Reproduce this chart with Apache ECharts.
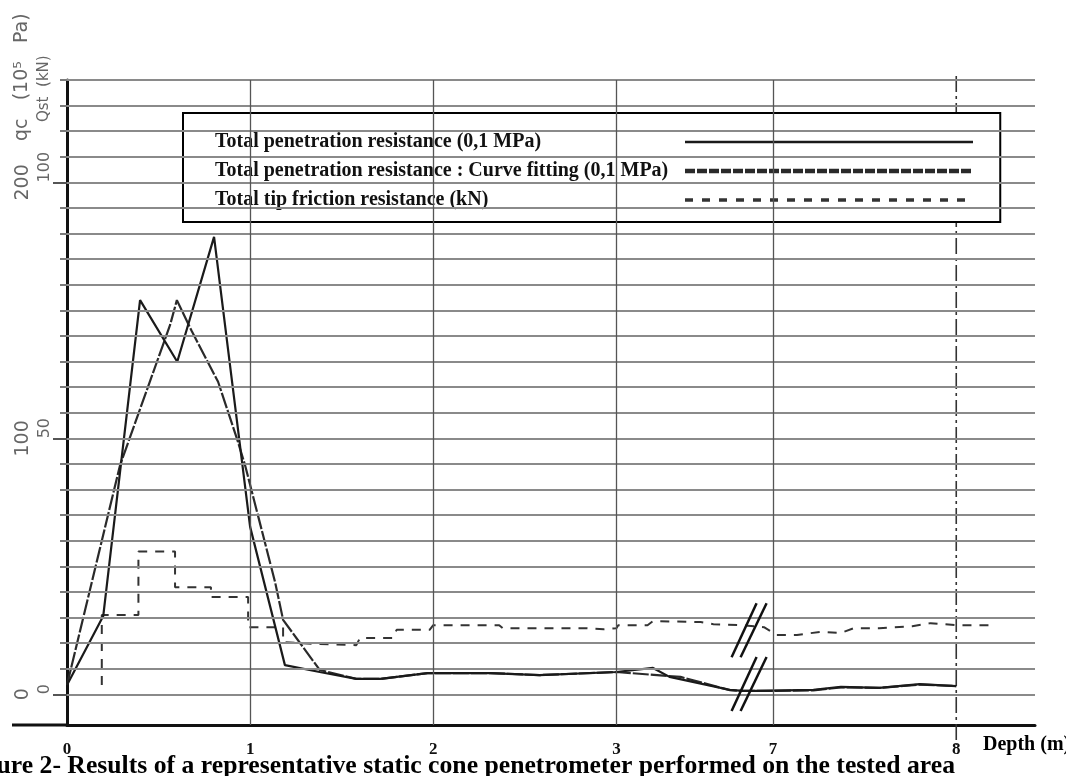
<!DOCTYPE html>
<html><head><meta charset="utf-8">
<script src="https://cdn.jsdelivr.net/npm/echarts@6/dist/echarts.min.js"></script>
<style>html,body{margin:0;padding:0;background:#fff}#c{width:1066px;height:776px}</style>
</head><body><div id="c"></div>
<script>
// ---- data (depth in m, qc in 10^5 Pa, Qst in kN) ----
const seriesNames = [
  'Total penetration resistance (0,1 MPa)',
  'Total penetration resistance : Curve fitting (0,1 MPa)',
  'Total tip friction resistance (kN)'
];
const penetrationData = [
  [0.0, 3.6], [0.198, 30.6], [0.399, 154], [0.602, 129.9], [0.803, 178.7], [1.0, 65.4],
  [1.19, 11.4], [1.38, 8.7], [1.58, 6.0], [1.71, 6.0], [1.97, 8.3], [2.31, 8.3],
  [2.58, 7.5], [3.0, 8.7], [3.20, 10.3], [3.29, 6.8], [3.62, 1.7], [3.69, 1.3],
  [6.91, 1.3], [7.22, 1.7], [7.37, 2.9], [7.58, 2.5], [7.80, 4.0], [8.0, 3.2]
];
const curveFitData = [
  [0.0, 3.6], [0.29, 89.6], [0.563, 144.3], [0.60, 154], [0.681, 141.9], [0.825, 122.1],
  [0.927, 100.1], [0.972, 89.6], [1.136, 43.9], [1.18, 29.1], [1.38, 9.5], [1.58, 6.0],
  [1.71, 6.0], [1.97, 8.3], [2.31, 8.3], [2.58, 7.5], [3.0, 8.7], [3.35, 6.8],
  [3.62, 1.6], [3.69, 1.3], [6.91, 1.3], [7.22, 1.5], [7.37, 2.7], [7.58, 2.5],
  [7.80, 3.8], [8.0, 3.2]
];
const frictionData = [
  [0.19, 1.8], [0.19, 15.5], [0.39, 15.5], [0.39, 27.9], [0.59, 27.9], [0.59, 20.9],
  [0.786, 20.9], [0.786, 19.0], [0.989, 19.0], [0.989, 13.1], [1.18, 13.1], [1.18, 10.2],
  [1.38, 9.8], [1.58, 9.6], [1.60, 11.0], [1.78, 11.0], [1.80, 12.6], [1.98, 12.6],
  [2.0, 13.5], [2.36, 13.5], [2.38, 12.9], [2.84, 12.9], [2.93, 12.7], [3.0, 12.9],
  [3.01, 13.5], [3.17, 13.5], [3.20, 14.3], [3.46, 14.1], [3.53, 13.7], [3.69, 13.5],
  [6.95, 13.1], [7.02, 11.6], [7.13, 11.6], [7.26, 12.2], [7.37, 12.0], [7.44, 12.9],
  [7.58, 12.9], [7.76, 13.3], [7.86, 13.9], [8.0, 13.5], [8.2, 13.5]
];
const xTickValues = [0, 1, 2, 3, 7, 8];
const xGridValues = [1, 2, 3, 7];
const xDashedGridValues = [8];
const qcGridValues = [0, 10, 20, 30, 40, 50, 60, 70, 80, 90, 100, 110, 120, 130, 140, 150, 160, 170, 180, 190, 200, 210, 220, 230, 240];
const qcLabelValues = [0, 100, 200];
const qstLabelValues = [0, 50, 100];
const depthBreak = { start: 3.7, end: 6.86 };
const breakMarkLevels = [25, 4];

const chart = echarts.init(document.getElementById('c'), null, { renderer: 'canvas' });

const gridMarkData = [];
qcGridValues.forEach(v => gridMarkData.push({ yAxis: v, lineStyle: { color: '#8a8a8a', width: 2, type: 'solid' } }));
xGridValues.forEach(v => gridMarkData.push({ xAxis: v, lineStyle: { color: '#555', width: 1.3, type: 'solid' } }));

const legendFont = { fontFamily: 'Liberation Serif', fontWeight: 'bold', fontSize: 20, color: '#111' };

const option = {
  animation: false,
  backgroundColor: '#fff',
  grid: { left: 67, right: 31, top: 80, bottom: 51 },
  legend: {
    orient: 'vertical', left: 183, top: 113, align: 'right',
    itemWidth: 288, itemHeight: 14, itemGap: 9,
    padding: [19, 25, 12, 32],
    borderColor: '#000', borderWidth: 2, backgroundColor: '#fff',
    selectedMode: false,
    itemStyle: { opacity: 0 },
    formatter: '{a|{name}}',
    textStyle: Object.assign({ lineHeight: 20, rich: { a: Object.assign({ width: 465, lineHeight: 20, align: 'left' }, legendFont) } }, legendFont),
    data: [
      { name: seriesNames[0], lineStyle: { width: 2.5 } },
      { name: seriesNames[1], lineStyle: { width: 4.5, type: [10, 2] } },
      { name: seriesNames[2], lineStyle: { width: 3.5, type: [8, 9] } }
    ]
  },
  xAxis: {
    type: 'value', min: 0, max: 8.43,
    breaks: [{ start: depthBreak.start, end: depthBreak.end, gap: '0.3%' }],
    breakArea: { show: false },
    axisLine: { show: true, onZero: false, breakLine: false, lineStyle: { color: '#111', width: 3 } },
    axisTick: { show: false },
    splitLine: { show: false },
    axisLabel: {
      customValues: xTickValues, margin: 16,
      fontFamily: 'Liberation Serif', fontWeight: 'bold', fontSize: 17, color: '#111',
      formatter: v => String(v)
    }
  },
  yAxis: [
    {
      type: 'value', min: -12, max: 240, position: 'left',
      axisLine: { show: true, onZero: false, lineStyle: { color: '#111', width: 3 } },
      axisTick: { show: true, customValues: qcGridValues, length: 7, lineStyle: { color: '#7a7a7a', width: 2 } },
      splitLine: { show: false },
      axisLabel: { customValues: qcLabelValues, rotate: 90, margin: 34, fontFamily: 'DejaVu Sans', fontSize: 19, color: '#666' }
    },
    {
      type: 'value', min: -6, max: 120, position: 'left',
      axisLine: { show: false, onZero: false },
      axisTick: { show: true, customValues: qstLabelValues, length: 14, lineStyle: { color: '#555', width: 2 } },
      splitLine: { show: false },
      axisLabel: { customValues: qstLabelValues, rotate: 90, align: 'left', margin: 14, fontFamily: 'DejaVu Sans', fontSize: 16, color: '#666',
        formatter: v => String(v) }
    }
  ],
  graphic: [
    { type: 'line', shape: { x1: 12, y1: 725, x2: 67, y2: 725 }, style: { stroke: '#111', lineWidth: 3 } },
    { type: 'text', x: 22, y: 141, rotation: Math.PI / 2,
      style: { text: 'qc   (10\u2075   Pa)', fontFamily: 'DejaVu Sans', fontSize: 19, fill: '#666', align: 'left', verticalAlign: 'middle' } },
    { type: 'text', x: 44, y: 122, rotation: Math.PI / 2,
      style: { text: 'Qst  (kN)', fontFamily: 'DejaVu Sans', fontSize: 15, fill: '#666', align: 'left', verticalAlign: 'middle' } },
    { type: 'text', x: 955, y: 779,
      style: { text: 'Figure 2- Results of a representative static cone penetrometer performed on the tested area', fontFamily: 'Liberation Serif', fontWeight: 'bold', fontSize: 25.7, fill: '#000', align: 'right', verticalAlign: 'bottom' } },
    { type: 'text', x: 983, y: 745,
      style: { text: 'Depth (m)', fontFamily: 'Liberation Serif', fontWeight: 'bold', fontSize: 20, fill: '#000', align: 'left', verticalAlign: 'middle' } }
  ],
  series: [
    {
      type: 'line', name: 'grid', data: [], silent: true, z: 1,
      markLine: { silent: true, symbol: 'none', label: { show: false }, animation: false, data: gridMarkData }
    },
    {
      type: 'custom', name: 'depth8', silent: true, z: 2,
      data: xDashedGridValues.map(v => [v, 240]),
      renderItem: (params, api) => {
        const top = api.coord([api.value(0), 240]);
        const bot = api.coord([api.value(0), -12]);
        return { type: 'line', shape: { x1: top[0], y1: top[1] - 4, x2: bot[0], y2: bot[1] + 20 },
          style: { stroke: '#333', lineWidth: 1.6, lineDash: [16, 4, 3, 4] } };
      }
    },
    {
      type: 'line', name: seriesNames[0], data: penetrationData, yAxisIndex: 0,
      symbol: 'none', z: 4, color: '#1a1a1a',
      lineStyle: { color: '#1a1a1a', width: 2.2, type: 'solid' }
    },
    {
      type: 'line', name: seriesNames[1], data: curveFitData, yAxisIndex: 0,
      symbol: 'none', z: 3, color: '#2a2a2a',
      lineStyle: { color: '#2a2a2a', width: 2.2, type: [16, 2] }
    },
    {
      type: 'line', name: seriesNames[2], data: frictionData, yAxisIndex: 1,
      symbol: 'none', z: 3, color: '#333',
      lineStyle: { color: '#333', width: 2, type: [9, 8] }
    },
    {
      type: 'custom', name: 'breakMarks', silent: true, z: 6, yAxisIndex: 0,
      data: breakMarkLevels.map(v => [depthBreak.start, v]),
      renderItem: (params, api) => {
        const p = api.coord([api.value(0), api.value(1)]);
        const cx = p[0] + 4, cy = p[1];
        const st = { stroke: '#111', lineWidth: 2.5 };
        return { type: 'group', children: [
          { type: 'line', shape: { x1: cx - 17, y1: cy + 27, x2: cx + 8, y2: cy - 27 }, style: st },
          { type: 'line', shape: { x1: cx - 8, y1: cy + 27, x2: cx + 18, y2: cy - 27 }, style: st }
        ] };
      }
    }
  ]
};
chart.setOption(option);
</script>
</body></html>
